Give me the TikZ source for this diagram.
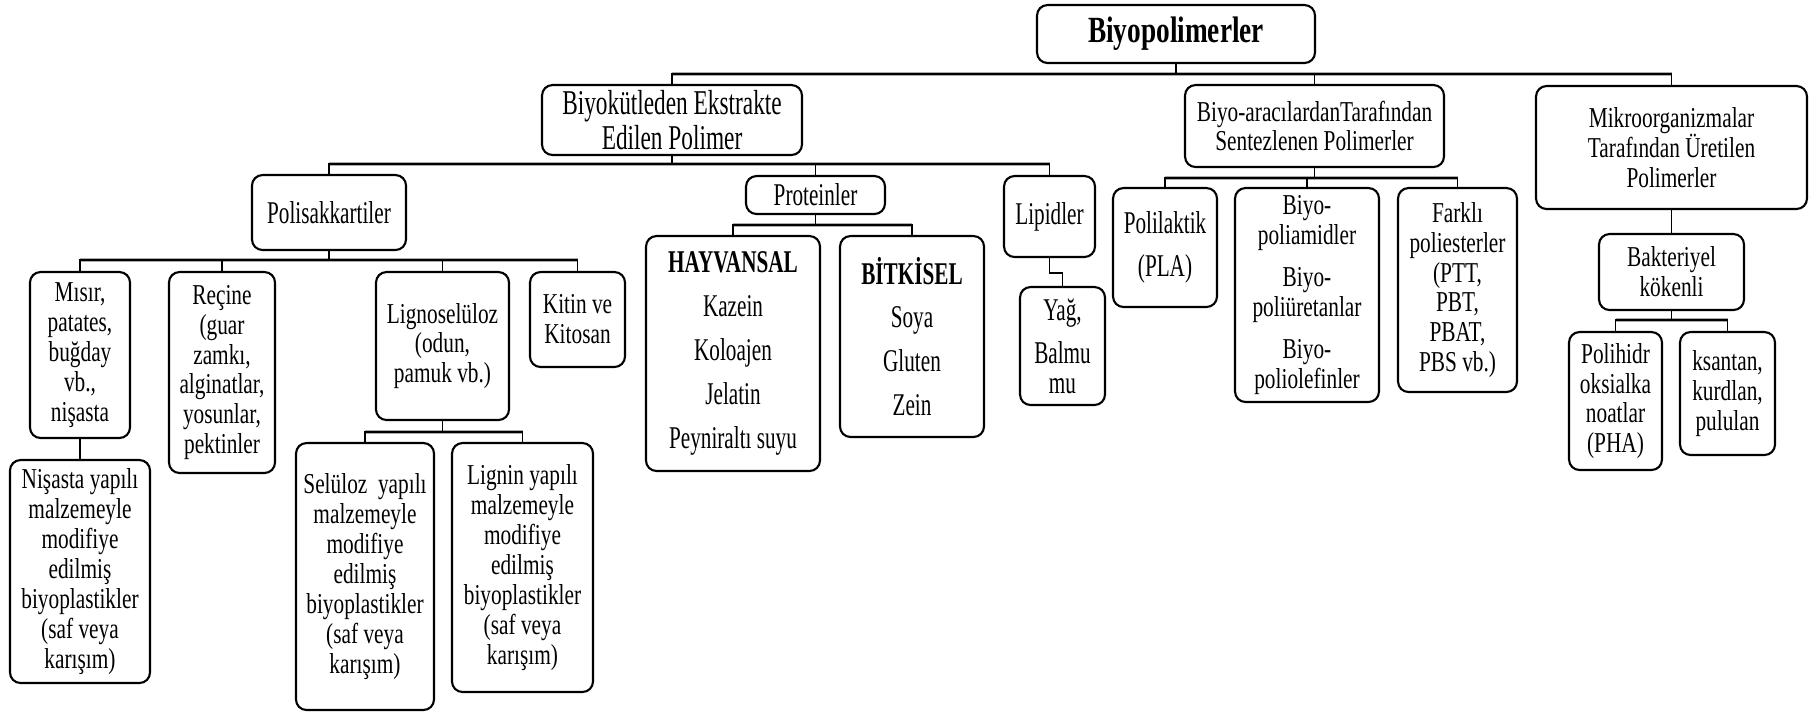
\documentclass[tikz,border=0pt]{standalone}
\usepackage{fontspec}
\setmainfont{Liberation Serif}[FakeStretch=0.74]
\newfontfamily\tallfont{Liberation Serif}[FakeStretch=0.67]
\usetikzlibrary{positioning,calc}

\begin{document}
\begin{tikzpicture}[
            x=0.1mm, y=-0.1mm,
            every node/.style={font=\fontsize{8.2}{8.5}\selectfont},
            nd/.style={draw, line width=0.6pt, rounded corners=3pt, align=center, inner sep=0pt},
            tall/.style={font=\tallfont\fontsize{9}{8.5}\selectfont},
            ln/.style={line width=0.5pt},
            bar/.style={draw=gray!65, line width=1.4pt},
        ]
            \useasboundingbox (0,0) rectangle (1809,711);
            % levels of the horizontal bars
            \coordinate (y0) at (0,74);
            \coordinate (y1) at (0,164);
            \coordinate (y2) at (0,178);
            \coordinate (y3) at (0,260);
            \coordinate (y4) at (0,225);
            \coordinate (y5) at (0,432);
            \coordinate (y6) at (0,320);

            \node[nd, minimum width=27.8mm, minimum height=5.8mm, font=\fontsize{10.5}{11}\selectfont\bfseries] (bio) at (1176,34) {Biyopolimerler};

            \node[nd, minimum width=26mm, minimum height=7mm, font=\tallfont\fontsize{9.9}{8}\selectfont] (ext) at (672,120) {Biyokütleden Ekstrakte\\Edilen Polimer};
            \node[nd, minimum width=25.9mm, minimum height=8.2mm] (syn) at (1314.5,126) {Biyo-aracılardanTarafından\\Sentezlenen Polimerler};
            \node[nd, minimum width=27.1mm, minimum height=12.3mm] (mik) at (1671.5,147.5) {Mikroorganizmalar\\Tarafından Üretilen\\Polimerler};

            \node[nd, tall, minimum width=15.4mm, minimum height=7.5mm] (pol) at (329,212.5) {Polisakkartiler};
            \node[nd, tall, minimum width=13.9mm, minimum height=3.8mm] (pro) at (815.5,195) {Proteinler};
            \node[nd, tall, minimum width=9.1mm, minimum height=8.1mm] (lip) at (1049.5,216.5) {Lipidler};

            \node[nd, tall, minimum width=10.4mm, minimum height=11.9mm] (pla) at (1165,247.5) {Polilaktik\\[3.7pt](PLA)};
            \node[nd, minimum width=14.4mm, minimum height=21.4mm] (pam) at (1307,295) {Biyo-\\poliamidler\\[3.5pt]Biyo-\\poliüretanlar\\[3.5pt]Biyo-\\poliolefinler};
            \node[nd, minimum width=11.9mm, minimum height=20.4mm] (far) at (1457.5,290) {Farklı\\poliesterler\\(PTT,\\PBT,\\PBAT,\\PBS vb.)};

            \node[nd, minimum width=14.5mm, minimum height=7.6mm] (bak) at (1671.5,272) {Bakteriyel\\kökenli};
            \node[nd, minimum width=9.3mm, minimum height=13.8mm] (pha) at (1615.5,401) {Polihidr\\oksialka\\noatlar\\(PHA)};
            \node[nd, minimum width=9.5mm, minimum height=12.3mm] (ksa) at (1727.5,393.5) {ksantan,\\kurdlan,\\pululan};

            \node[nd, tall, minimum width=17.4mm, minimum height=23.5mm] (hay) at (733,353.5) {\textbf{HAYVANSAL}\\[4pt]Kazein\\[4pt]Koloajen\\[4pt]Jelatin\\[4pt]Peyniraltı suyu};
            \node[nd, tall, minimum width=14.4mm, minimum height=20.1mm] (bit) at (912,336.5) {\textbf{BİTKİSEL}\\[4pt]Soya\\[4pt]Gluten\\[4pt]Zein};
            \node[nd, tall, minimum width=8.5mm, minimum height=11.8mm] (yag) at (1062.5,346) {Yağ,\\[3.7pt]Balmu\\mu};

            \node[nd, minimum width=10mm, minimum height=16.6mm] (mis) at (80,355) {Mısır,\\patates,\\buğday\\vb.,\\nişasta};
            \node[nd, minimum width=10.6mm, minimum height=20.1mm] (rec) at (222,372.5) {Reçine\\(guar\\zamkı,\\alginatlar,\\yosunlar,\\pektinler};
            \node[nd, minimum width=13.3mm, minimum height=14.8mm] (lig) at (442.5,346) {Lignoselüloz\\(odun,\\pamuk vb.)};
            \node[nd, minimum width=9.5mm, minimum height=9.5mm] (kit) at (577.5,319.5) {Kitin ve\\Kitosan};

            \node[nd, minimum width=14mm, minimum height=22.3mm] (nis) at (80,571.5) {Nişasta yapılı\\malzemeyle\\modifiye\\edilmiş\\biyoplastikler\\(saf veya\\karışım)};
            \node[nd, minimum width=13.8mm, minimum height=26.7mm] (sel) at (365,576.5) {Selüloz~ yapılı\\malzemeyle\\modifiye\\edilmiş\\biyoplastikler\\(saf veya\\karışım)};
            \node[nd, minimum width=14.1mm, minimum height=24.9mm] (lgn) at (522.5,567.5) {Lignin yapılı\\malzemeyle\\modifiye\\edilmiş\\biyoplastikler\\(saf veya\\karışım)};

            % grey bars
            \draw[bar] (ext.north |- y0) -- (mik.north |- y0);
            \draw[bar] (pol.north |- y1) -- (lip.north |- y1);
            \draw[bar] (pla.north |- y2) -- (far.north |- y2);
            \draw[bar] (mis.north |- y3) -- (kit.north |- y3);
            \draw[bar] (hay.north |- y4) -- (bit.north |- y4);
            \draw[bar] (sel.north |- y5) -- (lgn.north |- y5);
            \draw[bar] (pha.north |- y6) -- (ksa.north |- y6);

            % connectors
            \foreach \c in {ext,syn,mik}
                \draw[ln] (bio.south) |- (\c.north |- y0) -- (\c.north);
            \foreach \c in {pol,pro,lip}
                \draw[ln] (ext.south) |- (\c.north |- y1) -- (\c.north);
            \foreach \c in {pla,pam,far}
                \draw[ln] (syn.south) |- (\c.north |- y2) -- (\c.north);
            \foreach \c in {mis,rec,lig,kit}
                \draw[ln] (pol.south) |- (\c.north |- y3) -- (\c.north);
            \foreach \c in {hay,bit}
                \draw[ln] (pro.south) |- (\c.north |- y4) -- (\c.north);
            \foreach \c in {sel,lgn}
                \draw[ln] (lig.south) |- (\c.north |- y5) -- (\c.north);
            \foreach \c in {pha,ksa}
                \draw[ln] (bak.south) |- (\c.north |- y6) -- (\c.north);
            \draw[ln] (mik.south) -- (bak.north);
            \draw[ln] (mis.south) -- (nis.north);
            \draw[ln] (lip.south) -- ++(0,15) -| (yag.north);
        \end{tikzpicture}
\end{document}
